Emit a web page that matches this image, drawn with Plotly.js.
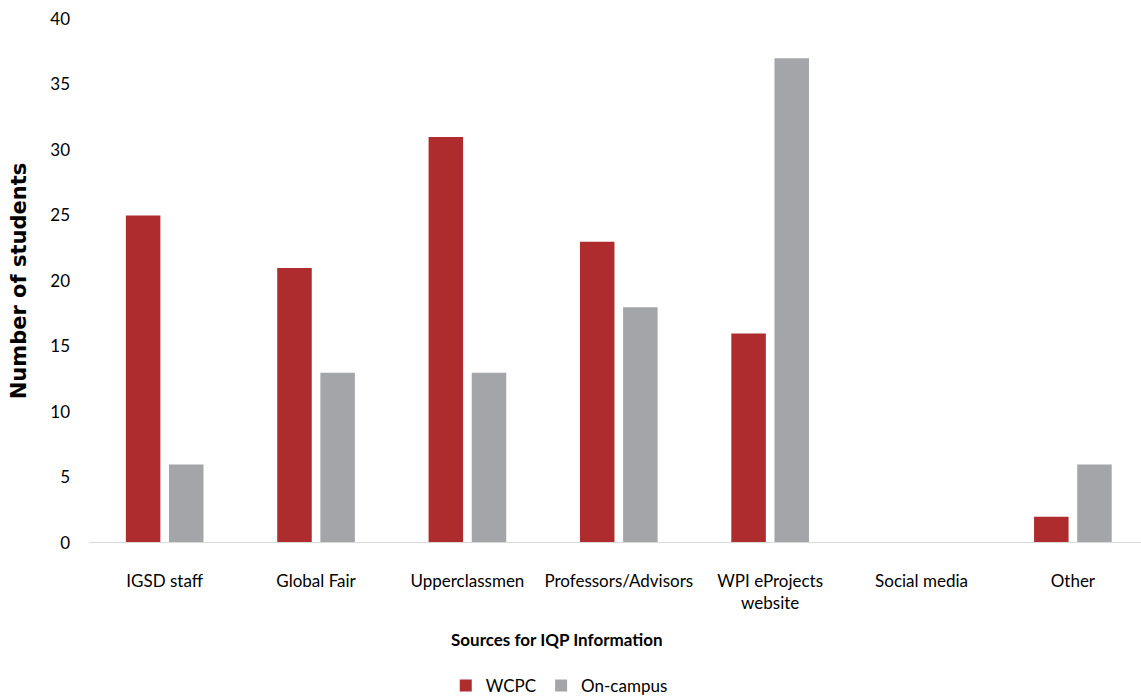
<!DOCTYPE html>
<html>
<head>
<meta charset="utf-8">
<script src="https://cdn.plot.ly/plotly-3.0.1.min.js"></script>
<style>
  html, body { margin: 0; padding: 0; background: #ffffff; }
  #chart { width: 1141px; height: 700px; }
</style>
</head>
<body>
<div id="chart"></div>
<script>
// Where students heard about the IQP, by group
const categories = [
  "IGSD staff",
  "Global Fair",
  "Upperclassmen",
  "Professors/Advisors",
  "WPI eProjects<br>website",
  "Social media",
  "Other"
];
const wcpc = [25, 21, 31, 23, 16, 0, 2];
const onCampus = [6, 13, 13, 18, 37, 0, 6];
const yTicks = [0, 5, 10, 15, 20, 25, 30, 35, 40];

const FONT = "Lato, 'Liberation Sans', sans-serif";

const traces = [
  {
    type: "bar",
    name: "WCPC",
    x: categories,
    y: wcpc,
    marker: { color: "#AE2B2E" },
    hoverinfo: "none"
  },
  {
    type: "bar",
    name: "On-campus",
    x: categories,
    y: onCampus,
    marker: { color: "#A3A5A8" },
    hoverinfo: "none"
  }
];

const layout = {
  width: 1141,
  height: 700,
  margin: { l: 89, r: 0, t: 19, b: 157, autoexpand: false },
  paper_bgcolor: "#ffffff",
  plot_bgcolor: "#ffffff",
  font: { family: FONT, color: "#000000", size: 17 },
  barmode: "group",
  bargap: 0.43,
  bargroupgap: 0.2,
  showlegend: true,
  legend: {
    orientation: "h",
    x: 0.447,
    xanchor: "center",
    yref: "container",
    y: 0.02,
    yanchor: "middle",
    font: { family: FONT, size: 17, color: "#000000" },
    itemwidth: 30,
    traceorder: "normal"
  },
  xaxis: {
    type: "category",
    range: [-0.5, 6.45],
    showgrid: false,
    showline: false,
    zeroline: false,
    ticks: "",
    ticklabelstandoff: 26,
    tickfont: { family: FONT, size: 17, color: "#000000" },
    fixedrange: true
  },
  yaxis: {
    range: [0, 40],
    tickvals: yTicks,
    ticktext: yTicks.map(String),
    showgrid: false,
    showline: false,
    zeroline: false,
    ticks: "",
    ticklabelstandoff: 18,
    tickfont: { family: FONT, size: 17, color: "#000000" },
    title: {
      text: "<b>Number of students</b>",
      font: { family: "'DejaVu Sans', sans-serif", size: 21, color: "#000000" },
      standoff: 17
    },
    fixedrange: true
  },
  shapes: [
    {
      type: "line",
      xref: "paper",
      yref: "y",
      x0: 0,
      x1: 1,
      y0: 0,
      y1: 0,
      line: { color: "#d9d9d9", width: 2 }
    }
  ],
  annotations: [
    {
      text: "<b>Sources for IQP Information</b>",
      xref: "paper",
      yref: "paper",
      x: 0.445,
      y: -0.185,
      xanchor: "center",
      yanchor: "middle",
      showarrow: false,
      font: { family: FONT, size: 17, color: "#000000" }
    }
  ]
};

Plotly.newPlot("chart", traces, layout, { displayModeBar: false, staticPlot: true });
</script>
</body>
</html>
